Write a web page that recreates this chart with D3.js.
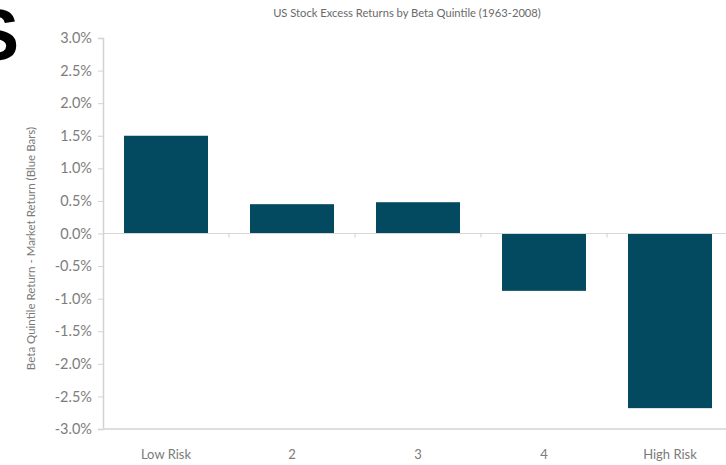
<!DOCTYPE html>
<html>
<head>
<meta charset="utf-8">
<script src="https://cdn.jsdelivr.net/npm/d3@7"></script>
<style>
  html, body { margin: 0; padding: 0; background: #fff; }
  svg { display: block; }
  text { font-family: Lato, "Open Sans", sans-serif; }
</style>
</head>
<body>
<svg id="chart" width="726" height="465"></svg>
<script>
// Excess return of each beta quintile over the market, in percent
const categories = ["Low Risk", "2", "3", "4", "High Risk"];
const excessReturns = [1.5, 0.45, 0.48, -0.88, -2.68];
const yTicks = [3.0, 2.5, 2.0, 1.5, 1.0, 0.5, 0.0, -0.5, -1.0, -1.5, -2.0, -2.5, -3.0];
const titleText = "US Stock Excess Returns by Beta Quintile (1963-2008)";
const yAxisTitle = "Beta Quintile Return - Market Return (Blue Bars)";

const svg = d3.select("#chart");
const W = 726, H = 465;
const plot = { left: 103, right: 733, top: 38, bottom: 429 };

const x = d3.scaleBand()
  .domain(categories)
  .range([plot.left, plot.right])
  .paddingInner(1 / 3)
  .paddingOuter(1 / 6);

const y = d3.scaleLinear()
  .domain([-3, 3])
  .range([plot.bottom, plot.top]);

// Large heading letter, partly off the left edge
svg.append("text")
  .attr("x", 19)
  .attr("y", 60)
  .attr("text-anchor", "end")
  .style("font-family", "'Liberation Sans', Arial, sans-serif")
  .style("font-weight", "bold")
  .style("font-size", "72px")
  .attr("fill", "#000")
  .text("S");

// Title
svg.append("text")
  .attr("x", 407)
  .attr("y", 17)
  .attr("text-anchor", "middle")
  .style("font-size", "11.2px")
  .attr("fill", "#6a6a6a")
  .text(titleText);

// Y axis
const yAxis = d3.axisLeft(y)
  .tickValues(yTicks)
  .tickFormat(d => d.toFixed(1) + "%")
  .tickSize(5)
  .tickPadding(6);

const yg = svg.append("g")
  .attr("transform", `translate(${plot.left},0)`)
  .call(yAxis);
yg.select(".domain").attr("stroke", "#d2d2d2").attr("stroke-width", 1.5);
yg.selectAll(".tick line").attr("stroke", "#d2d2d2");
yg.selectAll(".tick text")
  .attr("fill", "#7d7d7d")
  .style("font-size", "14.5px")
  .style("font-family", "Lato, 'Open Sans', sans-serif");

// Y axis title
svg.append("text")
  .attr("transform", `translate(35,${y(0) + 15}) rotate(-90)`)
  .attr("text-anchor", "middle")
  .style("font-size", "11.5px")
  .attr("fill", "#7a7a7a")
  .text(yAxisTitle);

// Bottom baseline at -3.0%
svg.append("line")
  .attr("x1", plot.left).attr("x2", W)
  .attr("y1", y(-3)).attr("y2", y(-3))
  .attr("stroke", "#dedede")
  .attr("stroke-width", 2);

// Bars
svg.append("g")
  .selectAll("rect")
  .data(categories.map((c, i) => ({ c, v: excessReturns[i] })))
  .join("rect")
  .attr("x", d => x(d.c))
  .attr("width", x.bandwidth())
  .attr("y", d => y(Math.max(0, d.v)))
  .attr("height", d => Math.abs(y(d.v) - y(0)))
  .attr("fill", "#03495f");

// Zero line with category divider ticks
const zg = svg.append("g")
  .attr("transform", `translate(0,${y(0)})`);
zg.append("line")
  .attr("x1", plot.left).attr("x2", W)
  .attr("stroke", "#d6d6d6")
  .attr("stroke-width", 1);
const step = x.step();
zg.selectAll("line.div")
  .data(categories.slice(1))
  .join("line")
  .attr("class", "div")
  .attr("x1", d => x(d) - (step - x.bandwidth()) / 2)
  .attr("x2", d => x(d) - (step - x.bandwidth()) / 2)
  .attr("y1", 0).attr("y2", 4)
  .attr("stroke", "#d0d0d0");

// Category labels
svg.append("g")
  .selectAll("text")
  .data(categories)
  .join("text")
  .attr("x", d => x(d) + x.bandwidth() / 2)
  .attr("y", 459)
  .attr("text-anchor", "middle")
  .style("font-size", "13px")
  .attr("fill", "#7a7a7a")
  .text(d => d);
</script>
</body>
</html>
